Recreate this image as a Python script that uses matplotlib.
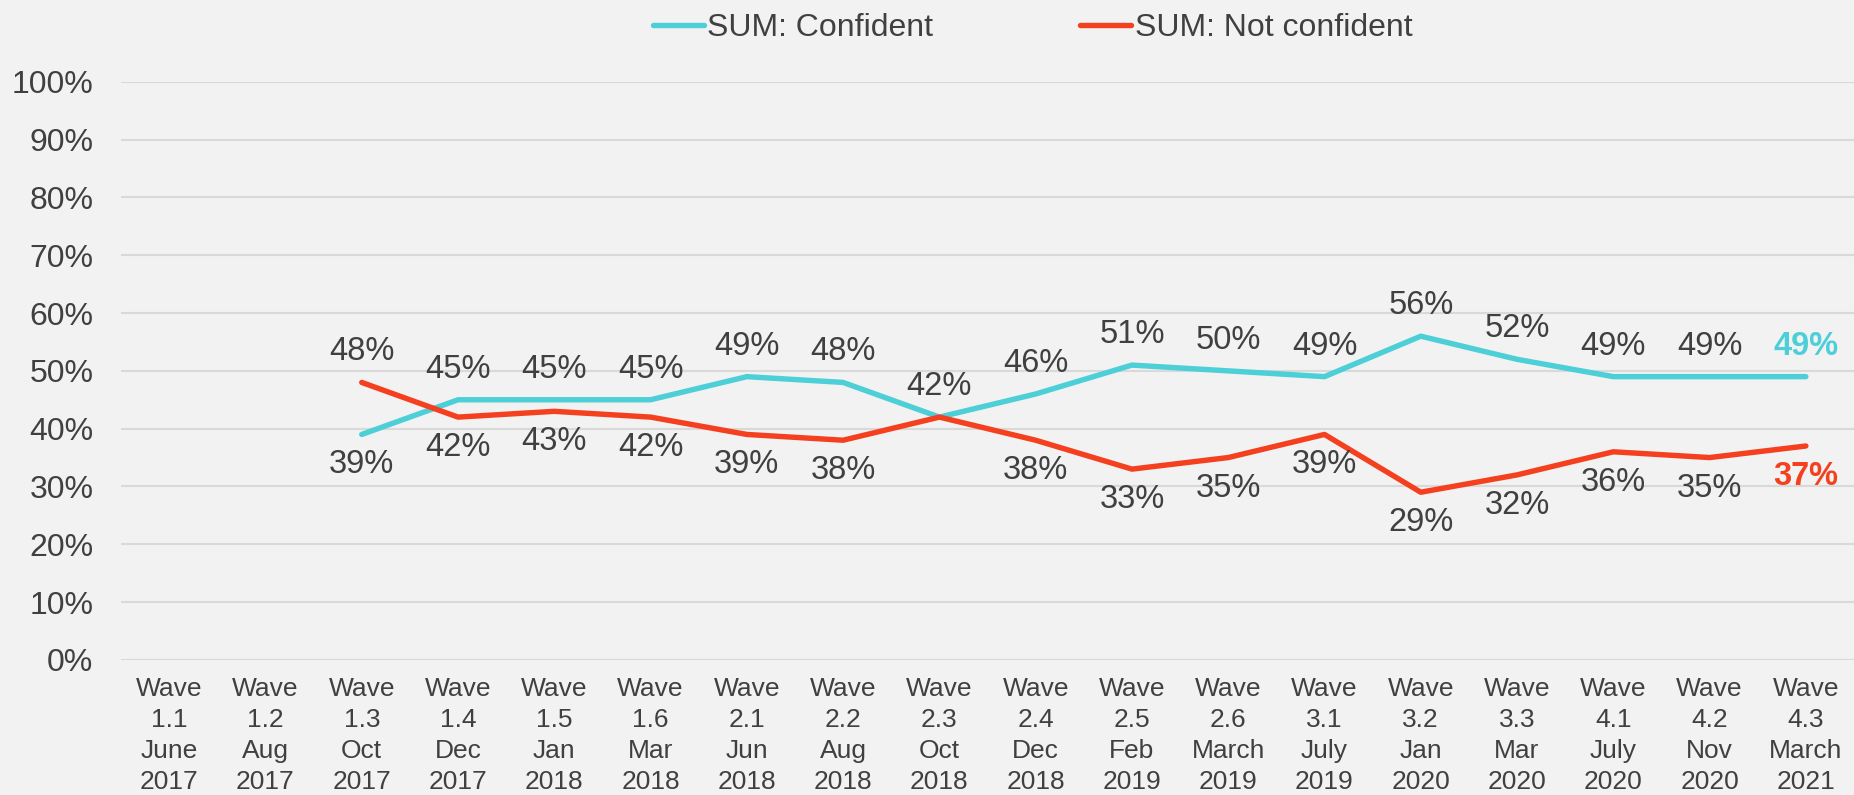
import numpy as np
import matplotlib.pyplot as plt

plt.rcParams['font.family'] = ['Liberation Sans', 'DejaVu Sans']

# waves on the x axis
waves = ['Wave\n1.1\nJune\n2017', 'Wave\n1.2\nAug\n2017', 'Wave\n1.3\nOct\n2017',
         'Wave\n1.4\nDec\n2017', 'Wave\n1.5\nJan\n2018', 'Wave\n1.6\nMar\n2018',
         'Wave\n2.1\nJun\n2018', 'Wave\n2.2\nAug\n2018', 'Wave\n2.3\nOct\n2018',
         'Wave\n2.4\nDec\n2018', 'Wave\n2.5\nFeb\n2019', 'Wave\n2.6\nMarch\n2019',
         'Wave\n3.1\nJuly\n2019', 'Wave\n3.2\nJan\n2020', 'Wave\n3.3\nMar\n2020',
         'Wave\n4.1\nJuly\n2020', 'Wave\n4.2\nNov\n2020', 'Wave\n4.3\nMarch\n2021']

# percentages (nan = not asked)
confident = [np.nan, np.nan, 39, 45, 45, 45, 49, 48, 42, 46, 51, 50, 49, 56, 52, 49, 49, 49]
not_confident = [np.nan, np.nan, 48, 42, 43, 42, 39, 38, 42, 38, 33, 35, 39, 29, 32, 36, 35, 37]

yticks = [0, 10, 20, 30, 40, 50, 60, 70, 80, 90, 100]

bg = '#F2F2F2'
cyan = '#4DCFD8'
red = '#F5401F'
txt = '#404040'

fig = plt.figure(figsize=(18.54, 7.95), dpi=100, facecolor=bg)
ax = fig.add_axes([0.0653, 0.170, 0.9347, 0.727], facecolor=bg)

x = np.arange(len(waves))
conf = np.array(confident, dtype=float)
notc = np.array(not_confident, dtype=float)

l1, = ax.plot(x, conf, color=cyan, lw=3.9, solid_capstyle='round',
              solid_joinstyle='round', label='SUM: Confident')
l2, = ax.plot(x, notc, color=red, lw=3.9, solid_capstyle='round',
              solid_joinstyle='round', label='SUM: Not confident')

# data labels: higher series above, lower below
last = len(x) - 1
for i in x:
    for vals, other, col, skip_tie in [(conf, notc, cyan, True), (notc, conf, red, False)]:
        v = vals[i]
        if np.isnan(v):
            continue
        if v == other[i] and skip_tie:
            continue
        off = 22 if v >= other[i] else -22
        if i == last:
            ax.annotate(f'{v:.0f}%', (i, v), xytext=(0, off), textcoords='offset points',
                        ha='center', va='center', fontsize=23.5, color=col, fontweight='bold')
        else:
            ax.annotate(f'{v:.0f}%', (i, v), xytext=(0, off), textcoords='offset points',
                        ha='center', va='center', fontsize=23.5, color=txt)

ax.set_xlim(-0.5, 17.5)
ax.set_ylim(0, 100)
ax.set_yticks(yticks)
ax.set_yticklabels([f'{t}%' for t in yticks], fontsize=23, color=txt)
ax.set_xticks(x)
ax.set_xticklabels(waves, fontsize=19, color=txt, linespacing=1.38)
ax.tick_params(axis='y', length=0, pad=20)
ax.tick_params(axis='x', length=0, pad=12)
ax.grid(axis='y', color='#D9D9D9', lw=1.5)
ax.set_axisbelow(True)
for s in ax.spines.values():
    s.set_visible(False)

fig.legend(handles=[l1, l2], loc='center', bbox_to_anchor=(0.557, 0.965), ncol=2,
           frameon=False, fontsize=23, handlelength=1.6, handletextpad=0.1,
           columnspacing=4.6, labelcolor=txt)

fig.savefig('out.png', dpi=100, facecolor=bg)
